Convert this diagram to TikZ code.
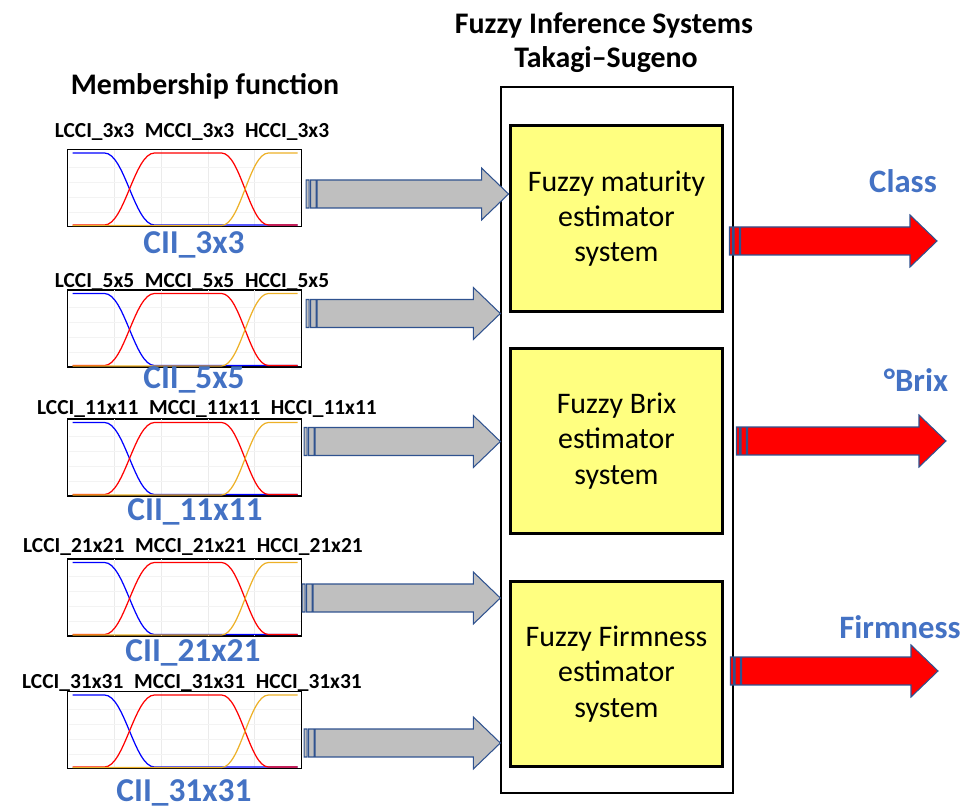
\documentclass[tikz,border=0pt]{standalone}
\usepackage{fontspec}
\setmainfont{Carlito}
\usepackage{tikz}
\usetikzlibrary{calc,positioning}
\definecolor{fisblue}{RGB}{68,114,196}
\definecolor{arrowedge}{RGB}{47,82,143}
\definecolor{arrowgray}{RGB}{191,191,191}
\definecolor{boxyellow}{RGB}{255,255,128}
\definecolor{mforange}{RGB}{237,177,40}
\definecolor{mfgridgray}{RGB}{235,235,235}

% striped block arrow: #1 style, #2 tail, #3 tip (same height as tail)
\newcommand{\stripedarrow}[3]{%
  \draw[#1] let \p1=(#2), \p2=(#3) in
    (\x1,\y1-0.28cm) rectangle (\x1+0.06cm,\y1+0.28cm)
    (\x1+0.09cm,\y1-0.28cm) rectangle (\x1+0.2cm,\y1+0.28cm)
    (\x1+0.22cm,\y1+0.28cm) -- (\x2-0.54cm,\y1+0.28cm) -- (\x2-0.54cm,\y1+0.52cm)
    -- (\x2,\y1) -- (\x2-0.54cm,\y1-0.52cm) -- (\x2-0.54cm,\y1-0.28cm)
    -- (\x1+0.22cm,\y1-0.28cm) -- cycle;}

\begin{document}
\begin{tikzpicture}[x=0.02cm, y=-0.02cm,
  title/.style={font=\fontsize{17}{20}\selectfont\bfseries, inner sep=0pt},
  mflabel/.style={font=\fontsize{12.2}{14}\selectfont\bfseries, inner sep=0pt},
  ciilabel/.style={font=\fontsize{19}{22}\selectfont\bfseries, text=fisblue, inner sep=0pt},
  outlabel/.style={font=\fontsize{18.6}{22}\selectfont\bfseries, text=fisblue, inner sep=0pt},
  mfbox/.style={draw=black, line width=0.8pt, minimum width=4.68cm,
    minimum height=1.54cm, inner sep=0pt},
  fisbox/.style={draw=black, line width=0.8pt, minimum width=4.64cm,
    minimum height=14.12cm, inner sep=0pt},
  estbox/.style={draw=black, fill=boxyellow, line width=1.7pt, minimum width=4.26cm,
    minimum height=3.72cm, align=center, font=\fontsize{17}{20}\selectfont},
  grayarrow/.style={draw=arrowedge, fill=arrowgray, line width=0.6pt},
  redarrow/.style={draw=arrowedge, fill=red, line width=0.6pt},
  pics/mfplot/.style={code={
    \foreach \u in {-70.2,-23.4,23.4,70.2}
      \draw[mfgridgray, line width=0.4pt] (\u,-38) -- (\u,38);
    \foreach \v in {-21,-6,9,24}
      \draw[mfgridgray!60, line width=0.3pt] (-116,\v) -- (116,\v);
    \draw[blue, line width=0.7pt] (-112,-35) -- (-80,-35)
      .. controls (-60,-35) and (-50,37) .. (-30,37) -- (113,37);
    \draw[red, line width=0.7pt] (-112,37) -- (-80,37)
      .. controls (-60,37) and (-50,-35) .. (-30,-35) -- (37,-35)
      .. controls (56,-35) and (65,37) .. (84,37) -- (113,37);
    \draw[mforange, line width=0.7pt] (-112,37.5) -- (37,37.5)
      .. controls (56,37.5) and (65,-35) .. (84,-35) -- (113,-35);
  }}
]
  \useasboundingbox (0,0) rectangle (967,810);

  % Titles
  \node[title] (fistitle) at (604,25) {Fuzzy Inference Systems};
  \node[title] (tstitle)  at (606,60) {Takagi–Sugeno};
  \node[title] (mftitle)  at (205,86) {Membership function};

  % Inference systems
  \node[fisbox] (fis) at (617,440) {};
  \node[estbox] (maturity) at (616.5,218.5) {Fuzzy maturity\\estimator\\system};
  \node[estbox] (brix)     at (616.5,441)   {Fuzzy Brix\\estimator\\system};
  \node[estbox] (firm)     at (616.5,674)   {Fuzzy Firmness\\estimator\\system};

  % Membership functions
  \node[mfbox] (mf3)  at (184.5,188)   {};
  \node[mfbox] (mf5)  at (184.5,328.5) {};
  \node[mfbox] (mf11) at (184.5,457.5) {};
  \node[mfbox] (mf21) at (184.5,597.5) {};
  \node[mfbox] (mf31) at (184.5,730)   {};
  \pic at (mf3)  {mfplot};
  \pic at (mf5)  {mfplot};
  \pic at (mf11) {mfplot};
  \pic at (mf21) {mfplot};
  \pic at (mf31) {mfplot};

  \node[mflabel] (lab3)  at (192,132) {LCCI\_3x3\enspace MCCI\_3x3\enspace HCCI\_3x3};
  \node[mflabel] (lab5)  at (192,282) {LCCI\_5x5\enspace MCCI\_5x5\enspace HCCI\_5x5};
  \node[mflabel] (lab11) at (207,409) {LCCI\_11x11\enspace MCCI\_11x11\enspace HCCI\_11x11};
  \node[mflabel] (lab21) at (193,547) {LCCI\_21x21\enspace MCCI\_21x21\enspace HCCI\_21x21};
  \node[mflabel] (lab31) at (192,683) {LCCI\_31x31\enspace MCCI\_31x31\enspace HCCI\_31x31};

  \node[ciilabel] (cii3)  at (194,245) {CII\_3x3};
  \node[ciilabel] (cii5)  at (194,380) {CII\_5x5};
  \node[ciilabel] (cii11) at (195,512) {CII\_11x11};
  \node[ciilabel] (cii21) at (193,653) {CII\_21x21};
  \node[ciilabel] (cii31) at (184,793) {CII\_31x31};

  % Inputs
  \stripedarrow{grayarrow}{$(mf3.east)+(4,6)$}{maturity.west}
  \stripedarrow{grayarrow}{$(mf5.east)+(4,-15)$}{fis.west}
  \stripedarrow{grayarrow}{$(mf11.east)+(2,-16)$}{fis.west}
  \stripedarrow{grayarrow}{$(mf21.east)+(0,0.5)$}{fis.west}
  \stripedarrow{grayarrow}{$(mf31.east)+(2,13)$}{fis.west}

  % Outputs
  \node[outlabel] (class) at (903,181) {Class};
  \node[outlabel] (brixout) at (916,380) {°Brix};
  \node[outlabel] (firmout) at (900,627) {Firmness};
  \coordinate (classtip) at (937,241);
  \coordinate (brixtip)  at (946,441);
  \coordinate (firmtip)  at (938,671);
  \stripedarrow{redarrow}{$(maturity.east)+(5,22.5)$}{classtip}
  \stripedarrow{redarrow}{$(brix.east)+(12,0)$}{brixtip}
  \stripedarrow{redarrow}{$(firm.east)+(6,-3)$}{firmtip}
\end{tikzpicture}
\end{document}
